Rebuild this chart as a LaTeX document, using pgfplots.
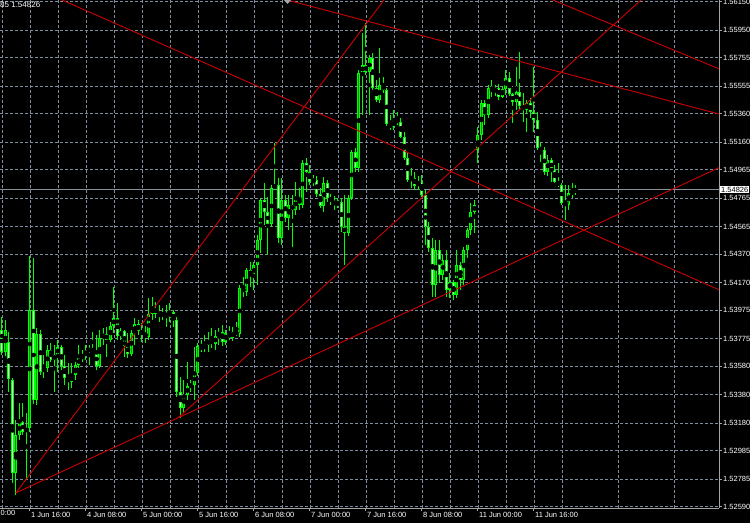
\documentclass[border=0pt]{standalone}
\usepackage{pgfplots}
\usepackage{pgfplotstable}
\pgfplotsset{compat=1.18}
\usepackage{fontspec}
\setmainfont{Liberation Sans}
\definecolor{mtgrid}{RGB}{125,140,158}
\definecolor{mtaxis}{RGB}{165,165,165}
\definecolor{mtred}{RGB}{205,0,0}
\definecolor{mtlime}{RGB}{0,255,0}
\definecolor{mtbull}{RGB}{0,150,0}
\definecolor{mtbear}{RGB}{210,255,210}
\definecolor{mtline}{RGB}{135,145,155}

\pgfplotstableread{
i O H L C
0 1.53836 1.53928 1.53660 1.53681
1 1.53681 1.53906 1.53653 1.53836
2 1.53751 1.53822 1.53399 1.53491
3 1.53483 1.53498 1.52757 1.52828
4 1.52828 1.53201 1.52673 1.53096
5 1.53096 1.53321 1.53060 1.53187
6 1.53187 1.53321 1.53096 1.53117
7 1.53117 1.53251 1.52778 1.53145
8 1.53145 1.54358 1.53117 1.53977
9 1.53977 1.54344 1.53314 1.53342
10 1.53342 1.53850 1.53307 1.53808
11 1.53808 1.53836 1.53519 1.53540
12 1.53540 1.53660 1.53498 1.53568
13 1.53568 1.53730 1.53540 1.53695
14 1.53695 1.53744 1.53610 1.53624
15 1.53624 1.53730 1.53399 1.53660
16 1.53660 1.53765 1.53540 1.53716
17 1.53716 1.53730 1.53554 1.53582
18 1.53582 1.53660 1.53448 1.53498
19 1.53498 1.53603 1.53413 1.53469
20 1.53469 1.53603 1.53427 1.53519
21 1.53519 1.53610 1.53483 1.53589
22 1.53589 1.53730 1.53568 1.53639
23 1.53639 1.53695 1.53610 1.53653
24 1.53653 1.53730 1.53624 1.53681
25 1.53681 1.53730 1.53589 1.53709
26 1.53709 1.53822 1.53681 1.53681
27 1.53681 1.53801 1.53554 1.53582
28 1.53582 1.53836 1.53568 1.53780
29 1.53780 1.53850 1.53730 1.53808
30 1.53808 1.53857 1.53646 1.53765
31 1.53765 1.53892 1.53751 1.53864
32 1.53864 1.54139 1.53815 1.53921
33 1.53921 1.54026 1.53765 1.53794
34 1.53794 1.53850 1.53765 1.53829
35 1.53829 1.53836 1.53646 1.53723
36 1.53723 1.53815 1.53639 1.53667
37 1.53667 1.53836 1.53653 1.53815
38 1.53815 1.53921 1.53730 1.53878
39 1.53878 1.53906 1.53801 1.53829
40 1.53829 1.53885 1.53751 1.53808
41 1.53808 1.53864 1.53744 1.53787
42 1.53787 1.54062 1.53765 1.53949
43 1.53949 1.54069 1.53906 1.53991
44 1.53991 1.54033 1.53921 1.53949
45 1.53949 1.54012 1.53892 1.53935
46 1.53935 1.53991 1.53906 1.53956
47 1.53956 1.54012 1.53857 1.53928
48 1.53928 1.54026 1.53892 1.53963
49 1.53963 1.53977 1.53857 1.53906
50 1.53906 1.53928 1.53364 1.53399
51 1.53399 1.53505 1.53216 1.53286
52 1.53286 1.53483 1.53251 1.53378
53 1.53378 1.53610 1.53342 1.53441
54 1.53441 1.53483 1.53399 1.53448
55 1.53448 1.53716 1.53342 1.53533
56 1.53533 1.53744 1.53512 1.53723
57 1.53723 1.53765 1.53681 1.53702
58 1.53702 1.53801 1.53681 1.53730
59 1.53730 1.53822 1.53681 1.53765
60 1.53765 1.53850 1.53709 1.53737
61 1.53737 1.53836 1.53695 1.53794
62 1.53794 1.53850 1.53730 1.53822
63 1.53822 1.53871 1.53723 1.53751
64 1.53751 1.53836 1.53730 1.53815
65 1.53815 1.53864 1.53765 1.53780
66 1.53780 1.53857 1.53758 1.53822
67 1.53822 1.53892 1.53794 1.53808
68 1.53808 1.54153 1.53787 1.54132
69 1.54132 1.54210 1.54069 1.54104
70 1.54104 1.54273 1.54076 1.54259
71 1.54259 1.54315 1.54139 1.54217
72 1.54217 1.54315 1.54118 1.54294
73 1.54294 1.54506 1.54153 1.54470
74 1.54470 1.54767 1.54379 1.54752
75 1.54752 1.54872 1.54576 1.54668
76 1.54668 1.54774 1.54365 1.54583
77 1.54583 1.54858 1.54562 1.54837
78 1.54837 1.55154 1.54823 1.54858
79 1.54858 1.54907 1.54449 1.54485
80 1.54485 1.54907 1.54435 1.54752
81 1.54752 1.54788 1.54597 1.54625
82 1.54625 1.54788 1.54541 1.54717
83 1.54717 1.54788 1.54421 1.54682
84 1.54682 1.54879 1.54647 1.54767
85 1.54767 1.54837 1.54682 1.54717
86 1.54717 1.55034 1.54696 1.55013
87 1.55013 1.55048 1.54809 1.54950
88 1.54950 1.54999 1.54858 1.54879
89 1.54879 1.54928 1.54851 1.54893
90 1.54893 1.54921 1.54774 1.54795
91 1.54795 1.54837 1.54696 1.54710
92 1.54710 1.54914 1.54668 1.54872
93 1.54872 1.54893 1.54738 1.54767
94 1.54767 1.54795 1.54717 1.54745
95 1.54745 1.54781 1.54682 1.54717
96 1.54717 1.54767 1.54696 1.54738
97 1.54738 1.54767 1.54527 1.54562
98 1.54562 1.54788 1.54294 1.54520
99 1.54520 1.54788 1.54499 1.54767
100 1.54767 1.55105 1.54752 1.55091
101 1.55091 1.55119 1.54950 1.54978
102 1.54978 1.55669 1.54950 1.55648
103 1.55648 1.55930 1.55351 1.55704
104 1.55704 1.56000 1.55634 1.55655
105 1.55655 1.55774 1.55351 1.55753
106 1.55753 1.55788 1.55528 1.55542
107 1.55542 1.55598 1.55443 1.55457
108 1.55457 1.55824 1.55436 1.55563
109 1.55563 1.55619 1.55507 1.55528
110 1.55528 1.55542 1.55274 1.55288
111 1.55288 1.55351 1.55246 1.55267
112 1.55267 1.55387 1.55246 1.55316
113 1.55316 1.55373 1.55281 1.55302
114 1.55302 1.55330 1.55189 1.55196
115 1.55196 1.55232 1.55034 1.55048
116 1.55048 1.55091 1.54879 1.54893
117 1.54893 1.54978 1.54837 1.54907
118 1.54907 1.54950 1.54823 1.54851
119 1.54851 1.54921 1.54823 1.54879
120 1.54879 1.54928 1.54774 1.54788
121 1.54788 1.54823 1.54435 1.54562
122 1.54562 1.54597 1.54386 1.54414
123 1.54414 1.54485 1.54069 1.54153
124 1.54153 1.54470 1.54069 1.54400
125 1.54400 1.54470 1.54167 1.54224
126 1.54224 1.54365 1.54188 1.54329
127 1.54329 1.54400 1.54069 1.54118
128 1.54118 1.54238 1.54062 1.54174
129 1.54174 1.54188 1.54047 1.54083
130 1.54083 1.54400 1.54062 1.54294
131 1.54294 1.54315 1.54118 1.54188
132 1.54188 1.54421 1.54153 1.54400
133 1.54400 1.54555 1.54344 1.54541
134 1.54541 1.54731 1.54506 1.54668
135 1.54668 1.54752 1.54520 1.54717
136 1.55105 1.55267 1.55013 1.55210
137 1.55210 1.55457 1.55175 1.55436
138 1.55436 1.55457 1.55281 1.55351
139 1.55351 1.55563 1.55330 1.55542
140 1.55542 1.55598 1.55478 1.55514
141 1.55514 1.55563 1.55485 1.55542
142 1.55542 1.55570 1.55457 1.55478
143 1.55478 1.55556 1.55471 1.55535
144 1.55535 1.55669 1.55492 1.55612
145 1.55612 1.55655 1.55485 1.55499
146 1.55499 1.55507 1.55295 1.55443
147 1.55443 1.55690 1.55387 1.55514
148 1.55514 1.55796 1.55387 1.55415
149 1.55415 1.55507 1.55302 1.55387
150 1.55387 1.55457 1.55232 1.55436
151 1.55436 1.55471 1.55330 1.55373
152 1.55373 1.55690 1.55232 1.55316
153 1.55316 1.55373 1.55105 1.55119
154 1.55119 1.55154 1.55020 1.55105
155 1.55105 1.55126 1.54929 1.54950
156 1.54950 1.55070 1.54921 1.55034
157 1.55034 1.55048 1.54879 1.54964
158 1.54964 1.54999 1.54872 1.54879
159 1.54879 1.55013 1.54844 1.54858
160 1.54858 1.54872 1.54717 1.54731
161 1.54731 1.54858 1.54611 1.54717
162 1.54717 1.54858 1.54682 1.54802
163 1.54802 1.54872 1.54767 1.54809
164 1.54809 1.54858 1.54788 1.54826
}\candles

\begin{document}
\begin{tikzpicture}[font=\fontsize{7.5}{9}\selectfont]
\fill[black] (0,-15pt) rectangle (750pt,508pt);
\path[use as bounding box] (0,-15pt) rectangle (750pt,508pt);
\begin{axis}[
  at={(0,0)}, anchor=south west,
  width=719pt, height=508pt, scale only axis,
  xmin=-0.571, xmax=204.86, ymin=1.52581, ymax=1.56162,
  axis x line=bottom, axis y line=right,
  axis line style={-, mtaxis, line width=1pt},
  xtick={8,24,40,56,72,88,104,120,136,152},
  xticklabels={1 Jun 16:00,4 Jun 08:00,5 Jun 00:00,5 Jun 16:00,6 Jun 08:00,7 Jun 00:00,7 Jun 16:00,8 Jun 08:00,11 Jun 00:00,11 Jun 16:00},
  minor xtick={0,16,32,48,64,80,96,112,128,144,160,176,192},
  ytick={1.52590,1.52785,1.52985,1.53180,1.53380,1.53580,1.53775,1.53975,1.54170,1.54370,1.54565,1.54765,1.54965,1.55160,1.55360,1.55555,1.55755,1.55950,1.56150},
  yticklabels={1.52590,1.52785,1.52985,1.53180,1.53380,1.53580,1.53775,1.53975,1.54170,1.54370,1.54565,1.54765,1.54965,1.55160,1.55360,1.55555,1.55755,1.55950,1.56150},
  grid=both,
  grid style={mtgrid, dash pattern=on 3pt off 2pt, line width=0.8pt},
  minor grid style={mtgrid, dash pattern=on 3pt off 2pt, line width=0.8pt},
  tick align=outside, major tick length=3pt, minor tick length=0pt,
  tick style={mtaxis, line width=1pt},
  xticklabel style={anchor=north west, text=white, inner sep=1pt, xshift=0pt},
  yticklabel style={anchor=west, text=white, inner sep=1pt},
]
\addplot[mtline, line width=1pt, forget plot] coordinates {(-1,1.54826) (206,1.54826)};
% wicks
\addplot[only marks, mark=none, forget plot,
  error bars/.cd, y dir=both, y explicit, error mark=none,
  error bar style={mtlime, line width=1pt}]
  table[x=i, y expr={0.5*(\thisrow{H}+\thisrow{L})}, y error expr={0.5*(\thisrow{H}-\thisrow{L})}] {\candles};
% bodies
\addplot[only marks, mark=none, forget plot,
  error bars/.cd, y dir=both, y explicit, error mark=none,
  error bar style={mtlime, line width=3pt}]
  table[x=i, y expr={0.5*(\thisrow{O}+\thisrow{C})}, y error expr={max(0.5*abs(\thisrow{C}-\thisrow{O}),0.00004)}] {\candles};
% bull interiors
\addplot[only marks, mark=none, forget plot,
  error bars/.cd, y dir=both, y explicit, error mark=none,
  error bar style={mtbull, line width=1pt}]
  table[x=i, y expr={\thisrow{C}>\thisrow{O} ? 0.5*(\thisrow{O}+\thisrow{C}) : nan}, y error expr={max(0.5*abs(\thisrow{C}-\thisrow{O})-0.00007,0)}] {\candles};
% bear interiors
\addplot[only marks, mark=none, forget plot,
  error bars/.cd, y dir=both, y explicit, error mark=none,
  error bar style={mtbear, line width=1pt}]
  table[x=i, y expr={\thisrow{C}<\thisrow{O} ? 0.5*(\thisrow{O}+\thisrow{C}) : nan}, y error expr={max(0.5*abs(\thisrow{C}-\thisrow{O})-0.00007,0)}] {\candles};
% trend lines
\addplot[mtred, line width=0.9pt] coordinates {(4,1.52688) (112,1.56257)};
\addplot[mtred, line width=0.9pt] coordinates {(4,1.52688) (206,1.54993)};
\addplot[mtred, line width=0.9pt] coordinates {(50.29,1.53217) (190,1.56327)};
\addplot[mtred, line width=0.9pt] coordinates {(10,1.56240) (206,1.54107)};
\addplot[mtred, line width=0.9pt] coordinates {(81.43,1.56162) (206,1.55351)};
\addplot[mtred, line width=0.9pt] coordinates {(157.43,1.56162) (206,1.55665)};
\coordinate (cp) at (axis cs:204.86,1.54826);
\end{axis}
\node[anchor=west, fill=white, text=black, inner sep=1pt] at ([xshift=1pt]cp) {1.54826};
\node[anchor=north west, text=white, inner sep=1pt] at (-0.5pt,-1pt) {0:00};
\node[anchor=north west, text=white, inner sep=1pt, font=\fontsize{8}{9}\selectfont] at (-1pt,507pt) {85 1.54826};
\fill[mtaxis] (284pt,508pt) -- (291pt,508pt) -- (287.5pt,504pt) -- cycle;
\end{tikzpicture}
\end{document}
